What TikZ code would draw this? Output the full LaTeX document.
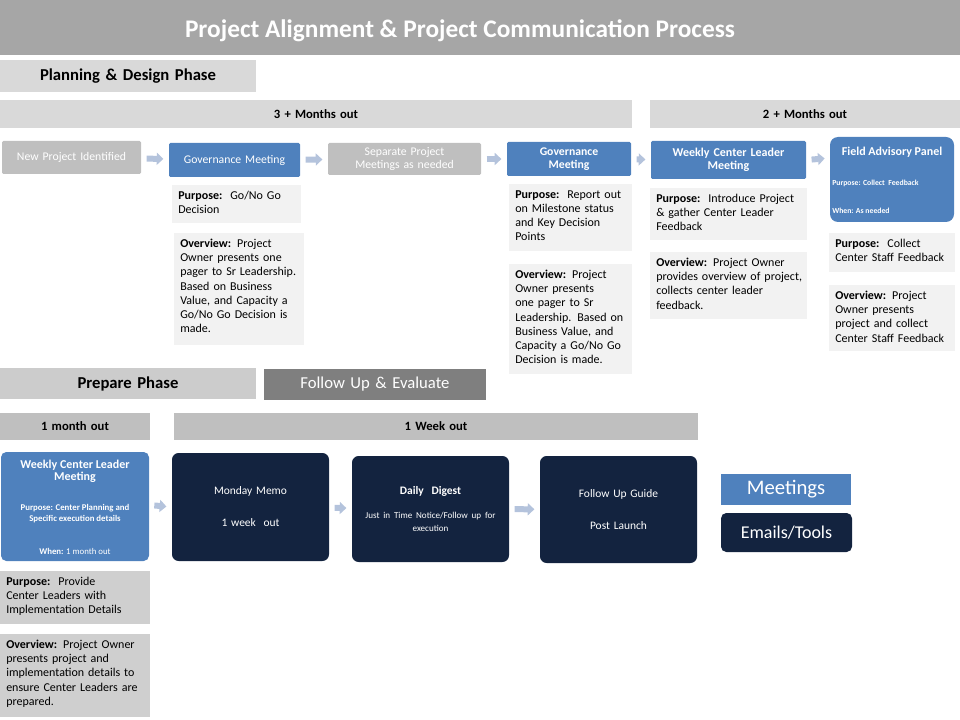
\documentclass[tikz,border=0pt]{standalone}
\usepackage{fontspec}
\setmainfont{Carlito}
\usetikzlibrary{arrows.meta,calc}
\definecolor{titlegray}{HTML}{A6A6A6}
\definecolor{bargray}{HTML}{D9D9D9}
\definecolor{stepgray}{HTML}{BFBFBF}
\definecolor{darkgray}{HTML}{7F7F7F}
\definecolor{infogray}{HTML}{F2F2F2}
\definecolor{meetblue}{HTML}{4F81BD}
\definecolor{toolnavy}{HTML}{13233F}
\definecolor{arrowblue}{HTML}{B4C3DC}
\hyphenpenalty=10000
\exhyphenpenalty=10000

% box between two corners (pixel units)
\newcommand{\pbox}[7]{%
  \node[#6,minimum width={(#4-#2)*0.75pt},minimum height={(#5-#3)*0.75pt},
        text width={(#4-#2-8)*0.75pt}] (#1) at ({(#2+#4)/2},{(#3+#5)/2}) {#7};}
% info panel with text from the top
\newcommand{\infobox}[7]{%
  \fill[#6] (#2,#3) rectangle (#4,#5);
  \node[anchor=north west,inner sep=0pt,align=left,
        font=\fontsize{9}{10.6}\selectfont,
        text width={(#4-#2-9)*0.75pt}] (#1) at ({#2+6},{#3+6}) {#7};}

\begin{document}
\begin{tikzpicture}[
    x=0.75pt,y=-0.75pt,
    step box/.style={fill=stepgray,text=white,align=center,inner sep=2pt,font=\fontsize{8.8}{9.6}\selectfont},
    meet box/.style={fill=meetblue,text=white,align=center,inner sep=2pt,font=\fontsize{8.8}{9.6}\selectfont},
    tool box/.style={fill=toolnavy,text=white,align=center,inner sep=2pt,font=\fontsize{8.6}{10}\selectfont},
    bar/.style={fill=bargray,align=center,inner sep=1pt,font=\bfseries\fontsize{9.5}{10}\selectfont},
    flow arrow/.style={-{Triangle[length=5pt,width=9pt]},line width=4.5pt,arrowblue,shorten <=4pt,shorten >=4pt},
]
\useasboundingbox (0,0) rectangle (960,720);

% Titel
\fill[titlegray] (0,0) rectangle (960,55);
\node[text=white,font=\bfseries\fontsize{19}{21}\selectfont] (title) at (460,31) {Project Alignment \& Project Communication Process};

% Planning & Design
\pbox{plan}{0}{60}{256}{92}{bar,font=\bfseries\fontsize{12.5}{14}\selectfont}{Planning \& Design Phase}
\pbox{three}{0}{100}{632}{128}{bar}{3 + Months out}
\pbox{two}{650}{100}{960}{128}{bar}{2 + Months out}

\pbox{new}{2}{141}{141}{174}{step box,rounded corners=1pt}{New Project Identified}
\pbox{gov}{169}{143}{300}{177}{meet box,rounded corners=1pt}{Governance Meeting}
\pbox{sep}{328}{143}{481}{175}{step box,rounded corners=1pt}{Separate Project\\Meetings as needed}
\pbox{govb}{507}{142}{631}{176}{meet box,rounded corners=1pt,font=\bfseries\fontsize{8.8}{9.6}\selectfont}{Governance\\Meeting}
\pbox{wcl}{651}{141}{806}{179}{meet box,rounded corners=1pt,font=\bfseries\fontsize{9}{9.6}\selectfont}{Weekly Center Leader\\Meeting}
\fill[meetblue,rounded corners=6pt] (830,137) rectangle (954,222);
\node[anchor=north,text=white,font=\bfseries\fontsize{9}{10}\selectfont] (fap) at (892,142) {Field Advisory Panel};
\node[anchor=north west,text=white,inner sep=0pt,font=\bfseries\fontsize{5.8}{7}\selectfont] (fapp) at (832,180) {Purpose: Collect\ \ Feedback};
\node[anchor=north west,text=white,inner sep=0pt,font=\bfseries\fontsize{5.8}{7}\selectfont] (fapw) at (832,208) {When: As needed};

\draw[flow arrow] (new) -- (gov);
\draw[flow arrow] (gov) -- (sep);
\draw[flow arrow] (sep) -- (govb);
\draw[flow arrow] (govb) -- (wcl);
\draw[flow arrow] (wcl.east) -- (830,158);

\infobox{govp}{172}{185}{301}{223}{infogray}{\textbf{Purpose:}\ \ Go/No Go Decision}
\infobox{govo}{174}{233}{304}{345}{infogray}{\textbf{Overview:} Project Owner presents one pager to Sr Leadership. Based on Business Value, and Capacity a Go/No Go Decision is made.}
\infobox{govbp}{509}{184}{632}{251}{infogray}{\textbf{Purpose:}\ \ Report out on Milestone status and Key Decision Points}
\infobox{govbo}{509}{264}{632}{374}{infogray}{\textbf{Overview:} Project Owner presents one pager to Sr Leadership. Based on Business Value, and Capacity a Go/No Go Decision is made.}
\infobox{wclp}{650}{188}{807}{240}{infogray}{\textbf{Purpose:}\ \ Introduce Project \& gather Center Leader Feedback}
\infobox{wclo}{650}{252}{807}{319}{infogray}{\textbf{Overview:} Project Owner provides overview of project, collects center leader feedback.}
\infobox{fapp2}{829}{233}{955}{272}{infogray}{\textbf{Purpose:}\ \ Collect Center Staff Feedback}
\infobox{fapo}{829}{285}{955}{351}{infogray}{\textbf{Overview:} Project Owner presents project and collect Center Staff Feedback}

% Prepare & Follow up
\pbox{prep}{0}{368}{256}{399}{bar,fill=stepgray!80,font=\bfseries\fontsize{12.5}{14}\selectfont}{Prepare Phase}
\pbox{follow}{264}{369}{486}{400}{fill=darkgray,text=white,align=center,font=\fontsize{12.5}{14}\selectfont}{Follow Up \& Evaluate}
\pbox{month}{0}{413}{150}{440}{bar,fill=stepgray}{1 month out}
\pbox{week}{174}{413}{698}{440}{bar,fill=stepgray}{1 Week out}

\fill[meetblue,rounded corners=4pt] (1,452) rectangle (149,561);
\node[anchor=north,text=white,align=center,font=\bfseries\fontsize{9}{9.6}\selectfont] (wclm) at (75,455) {Weekly Center Leader\\Meeting};
\node[text=white,align=center,font=\bfseries\fontsize{6.6}{8.2}\selectfont] (wclmp) at (75,514) {Purpose: Center Planning and\\Specific execution details};
\node[text=white,font=\bfseries\fontsize{6.6}{8}\selectfont] (wclmw) at (75,551) {When: \mdseries 1 month out};

\pbox{memo}{172}{453}{329}{561}{tool box,rounded corners=5pt}{Monday Memo\\[14pt]1 week\ \ out}
\pbox{digest}{352}{456}{509}{562}{tool box,rounded corners=5pt}{\textbf{Daily\ \ Digest}\\[10pt]{\fontsize{6.8}{8}\selectfont Just in Time Notice/Follow up for\\execution}}
\pbox{guide}{540}{456}{697}{563}{tool box,rounded corners=5pt}{Follow Up Guide\\[14pt]Post Launch}

\draw[flow arrow] (149,505) -- (memo.west);
\draw[flow arrow] (memo) -- (digest);
\draw[flow arrow] (digest) -- (guide);

\infobox{wclmp2}{0}{571}{150}{624}{stepgray!75}{\textbf{Purpose:}\ \ Provide Center Leaders with Implementation Details}
\infobox{wclmo}{0}{634}{150}{717}{stepgray!75}{\textbf{Overview:} Project Owner presents project and implementation details to ensure Center Leaders are prepared.}

% Legende
\pbox{legm}{721}{474}{851}{505}{meet box,font=\fontsize{15.5}{17}\selectfont}{Meetings}
\pbox{lege}{721}{513}{852}{552}{tool box,rounded corners=4pt,font=\fontsize{13.5}{15}\selectfont}{Emails/Tools}
\end{tikzpicture}
\end{document}
